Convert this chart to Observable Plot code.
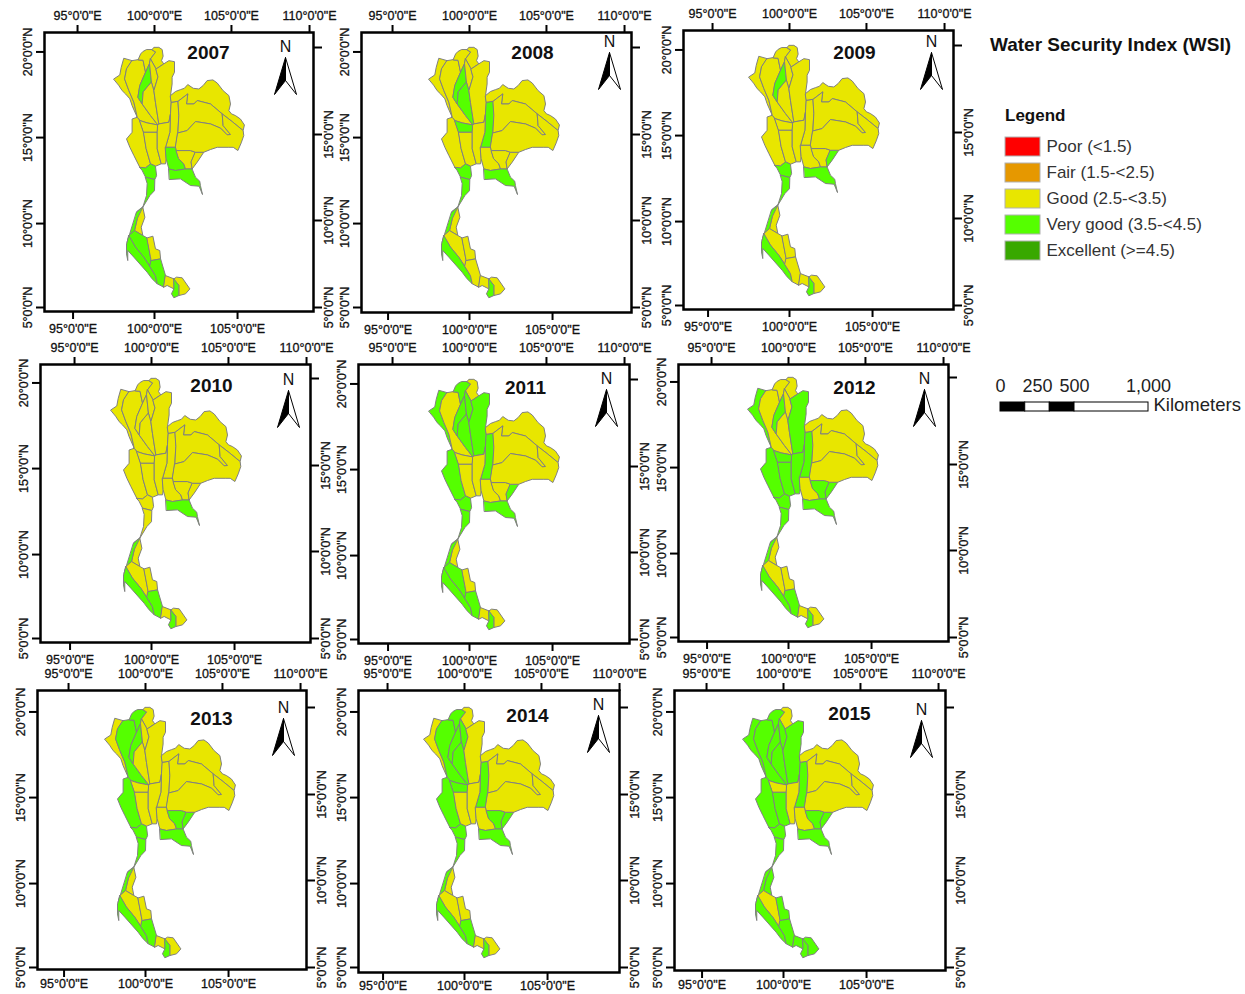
<!DOCTYPE html>
<html><head><meta charset="utf-8">
<script src="https://cdn.jsdelivr.net/npm/d3@7"></script>
<script src="https://cdn.jsdelivr.net/npm/@observablehq/plot@0.6"></script>
<style>
html,body{margin:0;padding:0;background:#fff;width:1245px;height:994px;overflow:hidden}
#page{position:relative;width:1245px;height:994px;font-family:"Liberation Sans",Arial,sans-serif}
#page>svg,#page>div{position:absolute}
.title{font-weight:700;font-size:19px;color:#111;white-space:nowrap}
.lgd{font-weight:700;font-size:17px;color:#111}
</style></head><body><div id="page"></div>
<script>
// shared basin boundary vertices [lon, lat]
const a1=[97.46,18.40],a2=[97.83,18.63],a3=[97.92,19.08],a4=[98.08,19.61],a5=[98.60,19.47],a6=[98.98,19.53],a7=[99.13,19.86],a8=[99.50,20.12],a9=[99.85,20.12],a10=[99.96,20.25],a11=[100.27,20.25],a12=[100.48,20.12],a13=[100.54,19.73],a14=[100.58,19.28],a15=[100.90,19.47],a16=[101.25,19.41],a17=[101.25,18.79],a18=[101.10,18.10],a19=[101.00,17.42];
const b1=[101.62,17.77],b2=[102.08,18.07],b3=[102.77,17.81],b4=[103.29,18.30],b5=[103.92,18.16],b6=[104.65,17.42],b7=[104.65,16.54],b8=[105.06,16.25],b9=[105.62,15.70],b10=[105.54,15.37],b11=[105.58,15.08],b12=[105.21,14.20],b13=[104.65,14.39],b14=[103.92,14.39],b15=[103.08,14.10],b16=[102.67,13.52],b17=[102.35,13.12],b18=[102.56,12.64],b19=[102.83,12.40],b20=[102.87,12.15],b21=[103.00,11.62],b22=[102.79,12.11],b23=[102.25,12.15],b24=[101.62,12.54],b25=[100.94,12.50],b26=[100.90,13.12];
const c1=[100.73,13.71],c2=[100.69,13.42],c3=[100.42,13.42],c4=[100.06,13.28];
const d1=[99.08,13.22],d2=[98.71,13.91],dc=[98.25,14.88],d4=[98.60,15.27],d5=[98.60,16.05],d6=[98.92,16.15],d7=[98.60,16.83],d8=[98.19,17.52],d9=[97.77,18.01];
const e1=[98.25,18.98],e2=[98.13,18.40],e3=[98.40,17.71],e4=[98.71,17.03];
const f1=[99.29,19.47],f2=[99.44,18.79],f4=[99.08,18.01],f5=[98.96,17.32],f6=[99.23,16.93],f7=[99.75,16.25],f8=[100.21,15.70],f9=[99.54,15.82],f10=[99.08,15.96];
const g1=[100.06,19.96],g2=[99.75,19.57],g3=[99.69,19.28],h1=[99.81,18.20],h2=[99.29,17.62];
const i1=[100.10,18.98],i2=[100.21,18.50],i3=[99.96,17.71],i4=[100.06,17.03],i5=[100.27,15.76];
const j1=[101.06,17.03],j2=[101.00,16.35],j3=[100.90,15.86];
const k1=[101.48,17.09],k2=[101.52,16.25],k3=[101.46,15.23],k4=[101.31,14.39],k5=[100.69,14.39],k6=[100.96,15.27];
const l1=[99.33,15.27],l2=[99.48,14.30],l3=[99.75,13.42],l4=[99.44,13.18],m1=[100.17,15.27],m2=[100.17,14.30];
const n1=[102.08,17.52],n2=[102.00,16.93],n3=[102.46,16.93],n4=[102.67,17.13],n5=[103.50,16.93],n6=[104.23,16.35],n7=[104.85,15.90];
const o1=[104.29,15.66],o2=[104.75,15.14],o3=[104.54,15.12],o4=[104.13,15.51],o5=[103.50,15.76],o6=[102.56,15.90],o7=[102.04,15.37];
const p1=[101.37,14.20],p2=[101.52,13.71],p3=[101.83,13.42],p4=[101.94,13.12],p5=[101.31,13.03],q1=[102.25,14.20],q2=[102.56,14.10],q3=[102.29,13.52];
const r1=[100.13,12.73],r2=[100.02,12.50],r3=[99.44,12.64],r4=[99.23,13.03];
const s1=[100.00,11.85],s2=[99.71,11.56],s3=[99.27,10.88],s4=[99.50,11.56],s5=[99.54,12.25];
const t2=[99.40,10.29],t3=[99.17,9.71],t4=[99.27,9.22],t5=[98.75,9.51],t6=[98.92,10.20];
const u1=[98.88,10.59],u2=[98.40,9.22],u3=[98.29,8.83];
const v1=[99.54,9.08],v2=[99.75,7.95],v3=[99.79,7.75],v4=[99.33,7.95],v5=[98.81,8.54];
const w1=[99.71,7.40],w2=[100.06,6.87],w3=[100.17,6.39],w4=[99.85,6.68],w5=[99.54,7.07],w6=[98.71,7.95],w7=[98.33,8.34],w8=[98.33,7.75],w9=[98.25,8.14],w10=[98.25,8.73];
const x1=[99.90,9.18],x2=[100.06,8.44],x3=[100.33,8.34],y1=[100.38,7.85],y2=[100.69,6.87],y3=[100.58,6.19];
const z1=[101.21,6.68],z2=[101.21,6.09],z3=[100.79,6.29],z4=[101.38,6.78],z5=[101.73,6.74],z6=[102.21,6.09],z7=[101.94,5.80],z8=[101.52,5.70],z9=[101.52,6.29],z10=[101.21,5.57],z11=[101.06,5.80];

const Salween=[a1,a2,a3,a4,a5,e1,e2,e3,e4,d6,d7,[98.46,17.23],d8,[97.98,17.71],d9];
const Ping=[a5,a6,f1,f2,f4,f5,f6,f7,f8,f9,f10,d6,e4,e3,e2,e1];
const KokWest=[a6,a7,[99.27,20.00],a8,a9,g1,g2,g3,f2,f1];
const Wang=[g3,h1,h2,f6,f5,f4,f2];
const Kok=[a9,a10,a11,a12,a13,[100.44,19.47],a14,i1,g2,g1];
const YomUpper=[g2,i1,i2,i3,h1,g3];
const YomLower=[h1,i3,i4,i5,f8,f7,f6,h2];
const Nan=[i1,a14,[100.73,19.37],a15,a16,a17,[101.10,18.50],a18,a19,j1,j2,j3,i5,i4,i3,i2];
const PaSak=[j1,k1,k2,k3,k4,k5,k6,j2];
const MaeKlong=[d1,d2,[98.46,14.39],dc,d4,d5,d6,f10,l1,l2,l3,l4];
const Sakae=[f10,f9,f8,m1,l1];
const ThaChin=[l1,m1,m2,c3,c4,l3,l2];
const ChaoPhraya=[f8,i5,j3,j2,k6,k5,c1,c2,c3,m2,m1];
const BangPakong=[k5,k4,p1,p2,p3,p4,p5,b26,c1];
const TonleWest=[p1,q1,q2,q3,b17,p4,p3,p2];
const TonleEast=[q2,b15,b16,b17,q3];
const EastCoast=[b26,p5,p4,b17,b18,b19,b20,b21,b22,b23,b24,b25];
const Khong=[a19,[101.31,17.66],b1,[101.87,17.85],b2,[102.42,17.85],b3,[103.04,18.01],b4,[103.65,18.34],b5,[104.29,17.71],b6,[104.75,16.93],b7,[104.81,16.35],b8,[105.37,16.05],b9,b10,n7,n6,n5,n4,n3,n2,n1,k1,j1];
const Chi=[k1,n1,n2,n3,n4,n5,n6,o1,o2,o3,o4,o5,o6,o7,k3,k2];
const Mun=[k3,o7,o6,o5,o4,o3,o2,o1,n6,n7,b10,b11,[105.42,14.65],b12,[104.92,14.39],b13,b14,[103.50,14.26],b15,q2,q1,p1,k4];
const Phetchaburi=[d1,l4,l3,c4,r1,r2,r3,r4];
const Prachuap=[r3,r2,s1,s2,s3,s4,s5];
const Chumphon=[s3,t2,t3,t4,t5,t6,u1];
const Ranong=[u1,s3,t6,t5,u2,u3];
const Tapi=[u2,t5,t4,v1,v2,v3,w1,v4,v5];
const WestCoast=[u2,v5,v4,w1,w2,w3,w4,w5,w6,w7,w8,w9,w10,u3];
const NakhonEast=[v1,x1,x2,x3,y1,v3,v2];
const Songkhla=[v3,y1,y2,y3,w3,w2,w1];
const Pattani=[y2,z1,z2,z3,y3];
const Narathiwat=[z1,z4,z5,z6,z7,z8,z9];
const Yala=[z1,z9,z8,z10,z11,z2];

const basins={Salween,Ping,KokWest,Wang,Kok,YomUpper,YomLower,Nan,PaSak,MaeKlong,Sakae,ThaChin,ChaoPhraya,BangPakong,TonleWest,TonleEast,EastCoast,Khong,Chi,Mun,Phetchaburi,Prachuap,Chumphon,Ranong,Tapi,WestCoast,NakhonEast,Songkhla,Pattani,Narathiwat,Yala};

// basins rated "Very good" per year; all other basins are "Good"
const veryGood2007=["Wang","BangPakong","EastCoast","Phetchaburi","Prachuap","Ranong","Tapi","WestCoast","Songkhla","Yala"];
const veryGood2008=["Wang","YomLower","PaSak","Sakae","EastCoast","Phetchaburi","Prachuap","Ranong","WestCoast","Yala"];
const veryGood2009=["Wang","TonleEast","EastCoast","Phetchaburi","Prachuap","Ranong","WestCoast","Yala"];
const veryGood2010=["EastCoast","Ranong","WestCoast","Songkhla","Yala"];
const veryGood2011=["Salween","KokWest","Wang","YomUpper","YomLower","Nan","PaSak","MaeKlong","TonleEast","EastCoast","Phetchaburi","Prachuap","Ranong","Tapi","WestCoast","Songkhla","Yala"];
const veryGood2012=["Salween","Wang","Nan","PaSak","MaeKlong","Sakae","ThaChin","ChaoPhraya","TonleWest","TonleEast","EastCoast","Phetchaburi","Prachuap","Ranong","WestCoast","Songkhla","Yala"];
const veryGood2013=["Ping","KokWest","Wang","MaeKlong","TonleWest","TonleEast","EastCoast","Phetchaburi","Prachuap","Ranong","WestCoast","Songkhla","Yala"];
const veryGood2014=["Ping","KokWest","Wang","YomUpper","YomLower","PaSak","MaeKlong","Sakae","TonleWest","TonleEast","EastCoast","Phetchaburi","Prachuap","Ranong","WestCoast","Songkhla","Yala"];
const veryGood2015=["Salween","Ping","KokWest","Wang","YomUpper","YomLower","Nan","PaSak","MaeKlong","ThaChin","TonleWest","TonleEast","EastCoast","Phetchaburi","Prachuap","Chumphon","Ranong","NakhonEast","WestCoast","Songkhla","Pattani","Narathiwat","Yala"];

const years=[2007,2008,2009,2010,2011,2012,2013,2014,2015];
const veryGood=[veryGood2007,veryGood2008,veryGood2009,veryGood2010,veryGood2011,veryGood2012,veryGood2013,veryGood2014,veryGood2015];

const legendLabels=["Poor (<1.5)","Fair (1.5-<2.5)","Good (2.5-<3.5)","Very good (3.5-<4.5)","Excellent (>=4.5)"];
const legendColors=["#ff0000","#e69800","#e8e600","#55ff00","#38a800"];

const topLonPos=[95.19,100,104.81,109.69],topLonLabels=['95°0\'0"E','100°0\'0"E','105°0\'0"E','110°0\'0"E'];
const botLonPos=[94.91,100,105.19],botLonLabels=['95°0\'0"E','100°0\'0"E','105°0\'0"E'];
const leftLatPos=[19.98,14.96,9.92,5],leftLatLabels=['20°0\'0"N','15°0\'0"N','10°0\'0"N','5°0\'0"N'];
const rightLatPos=[20.24,15.14,10.10,5],rightLatLabels=['','15°0\'0"N','10°0\'0"N','5°0\'0"N'];

// panel layout: frame left, right, top, bottom, pixel of 100°E, pixel of 5°N, year label, north arrow, bottom label padding
const layout=[
 {L:44,R:313,T:32,B:311,x100:154,y5:307,yx:208,yy:52,nx:285,ny:46,bp:5},
 {L:361,R:631,T:32,B:312,x100:469,y5:307,yx:532,yy:52,nx:609,ny:41,bp:5},
 {L:683,R:953,T:30,B:309,x100:789,y5:305,yx:854,yy:52,nx:931,ny:41,bp:5},
 {L:40,R:310,T:364,B:642,x100:151,y5:638,yx:211,yy:385,nx:288,ny:379,bp:5},
 {L:358,R:629,T:364,B:643,x100:469,y5:639,yx:525,yy:387,nx:606,ny:378,bp:5},
 {L:678,R:948,T:364,B:641,x100:788,y5:637,yx:854,yy:387,nx:924,ny:378,bp:5},
 {L:37,R:306,T:690,B:969,x100:145,y5:967,yx:211,yy:718,nx:283,ny:707,bp:2},
 {L:358,R:619,T:690,B:972,x100:464,y5:967,yx:527,yy:715,nx:598,ny:704,bp:1},
 {L:674,R:945,T:690,B:970,x100:783,y5:967,yx:849,yy:713,nx:921,ny:709,bp:2}
];
const pxPerLon=16,pxPerLat=17.06,M=40;
const page=document.getElementById("page");
const color={domain:legendLabels,range:legendColors};
const font='"Liberation Sans",Arial,sans-serif';
const arrowLeft={draw(c){c.moveTo(0,0);c.lineTo(-11,37);c.lineTo(0,23);c.closePath();}};
const arrowRight={draw(c){c.moveTo(0,0);c.lineTo(11,37);c.lineTo(0,23);c.closePath();}};

years.forEach((year,i)=>{
  const f=layout[i];
  const rows=[];
  for(const [name,poly] of Object.entries(basins)){
    const wsi=veryGood[i].includes(name)?legendLabels[3]:legendLabels[2];
    for(const [lon,lat] of poly) rows.push({name,lon,lat,wsi});
  }
  const W=f.R-f.L,H=f.B-f.T;
  const xdom=[100+(f.L-f.x100)/pxPerLon,100+(f.R-f.x100)/pxPerLon];
  const ydom=[5+(f.y5-f.B)/pxPerLat,5+(f.y5-f.T)/pxPerLat];
  const lab=(pos,labs)=>d=>labs[pos.indexOf(d)];
  const tickStyle={fontSize:12.5,fontWeight:400,stroke:"#000",strokeWidth:2,fill:"#111",textStroke:"#111",textStrokeWidth:0.3,label:null};
  const svg=Plot.plot({
    width:W+2*M,height:H+2*M,marginLeft:M,marginRight:M,marginTop:M,marginBottom:M,
    style:{background:"transparent",fontFamily:font,overflow:"visible"},
    x:{domain:xdom,range:[M,M+W]},
    y:{domain:ydom,range:[M+H,M]},
    color,
    marks:[
      Plot.line(rows,{x:"lon",y:"lat",z:"name",fill:"wsi",stroke:"#808080",strokeWidth:1,strokeLinejoin:"round",curve:"linear-closed"}),
      Plot.frame({stroke:"#000",strokeWidth:2.5}),
      Plot.axisX(topLonPos,{anchor:"top",tickSize:8,tickPadding:5,tickFormat:lab(topLonPos,topLonLabels),...tickStyle}),
      Plot.axisX(botLonPos,{anchor:"bottom",tickSize:8,tickPadding:f.bp,tickFormat:lab(botLonPos,botLonLabels),...tickStyle}),
      Plot.axisY(leftLatPos,{anchor:"left",tickSize:8,tickFormat:()=>"",...tickStyle}),
      Plot.axisY(rightLatPos,{anchor:"right",tickSize:8,tickFormat:()=>"",...tickStyle}),
      Plot.text(leftLatLabels.map((t,k)=>({t,lat:leftLatPos[k]})),{x:()=>xdom[0],y:"lat",text:"t",rotate:-90,dx:-17,textAnchor:"middle",fontSize:12.5,fill:"#111",stroke:"#111",strokeWidth:0.3}),
      Plot.text(rightLatLabels.map((t,k)=>({t,lat:rightLatPos[k]})),{x:()=>xdom[1],y:"lat",text:"t",rotate:-90,dx:15,textAnchor:"middle",fontSize:12.5,fill:"#111",stroke:"#111",strokeWidth:0.3}),
      Plot.text([year],{frameAnchor:"top-left",dx:f.yx-f.L,dy:f.yy-f.T,text:d=>String(d),fontSize:19,fontWeight:700,fill:"#111",textAnchor:"middle",lineAnchor:"middle"}),
      Plot.text(["N"],{frameAnchor:"top-left",dx:f.nx-f.L,dy:f.ny-f.T,text:d=>d,fontSize:16,fill:"#111",textAnchor:"middle",lineAnchor:"middle"}),
      Plot.dot([0],{frameAnchor:"top-left",dx:f.nx-f.L,dy:f.ny+11-f.T,symbol:arrowRight,r:3,fill:"#fff",stroke:"#000",strokeWidth:1}),
      Plot.dot([0],{frameAnchor:"top-left",dx:f.nx-f.L,dy:f.ny+11-f.T,symbol:arrowLeft,r:3,fill:"#000",stroke:"#000",strokeWidth:1})
    ]
  });
  svg.style.left=(f.L-M)+"px";svg.style.top=(f.T-M)+"px";
  page.appendChild(svg);
});

// title and legend heading
const title=document.createElement("div");title.className="title";title.textContent="Water Security Index (WSI)";title.style.left="990px";title.style.top="34px";page.appendChild(title);
const lg=document.createElement("div");lg.className="lgd";lg.textContent="Legend";lg.style.left="1005px";lg.style.top="106px";page.appendChild(lg);

// legend swatches
const legendPlot=Plot.plot({
  width:240,height:137,margin:0,
  style:{background:"transparent",fontFamily:font,overflow:"visible"},
  x:{domain:[0,1],range:[0,35],axis:null},
  y:{type:"band",domain:legendLabels,range:[0,137],padding:0.27,round:false,axis:null},
  color,
  marks:[
    Plot.barX(legendLabels,{x1:()=>0,x2:()=>1,y:d=>d,fill:d=>d,stroke:"#b0b0b0",strokeWidth:1}),
    Plot.text(legendLabels,{x:()=>1,y:d=>d,text:d=>d,dx:6,textAnchor:"start",fontSize:17,fill:"#333"})
  ]
});
legendPlot.style.left="1005px";legendPlot.style.top="130px";page.appendChild(legendPlot);

// scale bar
const scaleStops=[0,167,333,500,1000],scaleFills=["#000","#fff","#000","#fff"],scaleTicks=[0,250,500,1000],scaleTickLabels=["0","250","500","1,000"],scaleUnit="Kilometers";
const segs=scaleFills.map((fill,k)=>({a:scaleStops[k],b:scaleStops[k+1],fill}));
const scalePlot=Plot.plot({
  width:250,height:44,marginLeft:4,marginRight:98,marginTop:0,marginBottom:0,
  style:{background:"transparent",fontFamily:font,overflow:"visible"},
  x:{domain:[0,1000],range:[4,152],axis:null},
  y:{domain:[0,44],range:[44,0],axis:null},
  marks:[
    Plot.rect(segs,{x1:"a",x2:"b",y1:()=>9,y2:()=>18,fill:"fill",stroke:"#000",strokeWidth:1}),
    Plot.text(scaleTicks,{x:d=>d,y:()=>34,text:(d,k)=>scaleTickLabels[k],fontSize:18,fill:"#222",textAnchor:"middle"}),
    Plot.text([scaleUnit],{x:()=>1000,y:()=>15,text:d=>d,dx:5,textAnchor:"start",fontSize:18.5,fill:"#222"})
  ]
});
scalePlot.style.left="996px";scalePlot.style.top="376px";page.appendChild(scalePlot);
</script></body></html>
